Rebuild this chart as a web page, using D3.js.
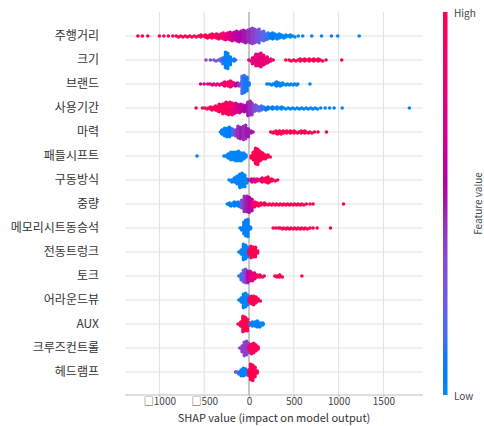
<!DOCTYPE html>
<html>
<head>
<meta charset="utf-8">
<script src="https://cdn.jsdelivr.net/npm/d3@7"></script>
<style>
  body { margin: 0; background: #fff; }
  text { font-family: "Noto Sans CJK KR", "Noto Sans", sans-serif; }
</style>
</head>
<body>
<svg id="chart" width="484" height="426"></svg>
<script>
// feature names, top to bottom
var features = ["주행거리", "크기", "브랜드", "사용기간", "마력", "패들시프트", "구동방식", "중량",
  "메모리시트동승석", "전동트렁크", "토크", "어라운드뷰", "AUX", "크루즈컨트롤", "헤드램프"];

var tickValues = [-1000, -500, 0, 500, 1000, 1500];
var tickLabels = ["\u25A11000", "\u25A1500", "0", "500", "1000", "1500"];

// each entry: [shap value, number of dots stacked there, feature value 0 (low) .. 1 (high)]
var mileage = [[-1240,1,1],[-1190,1,1],[-1130,1,1],[-1000,1,1],[-950,1,1],[-900,1,1],[-850,1,1],[-800,2,1],
  [-750,2,1],[-700,2,1],[-650,2,1],[-600,2,1],[-550,3,1],[-500,3,1],[-450,4,1],[-400,5,1],[-350,6,0.95],
  [-300,7,0.88],[-250,8,0.8],[-200,10,0.72],[-150,11,0.62],[-100,12,0.55],[-50,14,0.5],[0,15,0.45],
  [50,17,0.38],[100,15,0.3],[150,11,0.22],[200,8,0.15],[250,7,0.08],[300,6,0.03],[350,5,0.02],
  [400,4,0.02],[450,3,0.02],[500,2,0.02],[550,1,0.02],[600,1,0.02],[700,1,0.02],[810,1,0.02],
  [920,1,0.02],[990,1,0.02],[1230,1,0.02]];
var size = [[-480,1,0.35],[-430,1,0.35],[-380,2,0.3],[-330,3,0.25],[-280,8,0.12],[-250,18,0.05],
  [-220,10,0.05],[-180,3,0.1],[-150,1,0.1],[10,2,0.75],[50,8,0.78],[90,13,0.8],[120,15,0.8],
  [150,12,0.82],[190,8,0.85],[230,4,0.85],[270,1,0.9],[410,1,1],[460,2,1],[510,2,1],[560,3,1],
  [610,3,1],[660,3,1],[710,3,1],[760,3,1],[810,2,1],[860,1,1],[1035,1,1]];
var brand = [[-540,1,0.7],[-500,1,0.7],[-460,1,0.72],[-420,2,0.75],[-380,2,0.78],[-340,2,0.8],
  [-300,3,0.85],[-260,5,0.9],[-220,7,0.95],[-180,5,0.8],[-140,4,0.55],[-100,4,0.4],[-65,20,0.15],
  [-35,16,0.1],[-10,3,0.1],[200,1,0.04],[240,2,0.04],[280,3,0.03],[320,5,0.03],[360,4,0.03],
  [400,2,0.03],[440,2,0.03],[480,2,0.03],[520,2,0.03],[545,1,0.03],[680,1,0.03]];
var age = [[-590,1,1],[-520,1,1],[-480,2,1],[-440,3,1],[-400,4,1],[-360,6,1],[-320,9,0.98],
  [-280,12,0.96],[-240,14,0.94],[-200,14,0.9],[-160,12,0.8],[-120,10,0.7],[-80,9,0.6],[-40,8,0.55],
  [0,16,0.5],[20,14,0.45],[60,8,0.35],[100,6,0.25],[150,5,0.15],[200,4,0.08],[250,3,0.05],
  [300,3,0.03],[350,3,0.03],[400,2,0.03],[450,2,0.03],[500,2,0.03],[550,2,0.03],[600,2,0.03],
  [650,2,0.03],[700,2,0.03],[750,2,0.03],[800,1,0.03],[850,1,0.03],[900,1,0.03],[950,1,0.03],
  [1040,1,0.03],[1790,1,0.03]];
var power = [[-320,1,0.1],[-290,6,0.05],[-260,10,0.05],[-230,11,0.05],[-200,9,0.08],[-170,6,0.2],
  [-140,8,0.4],[-110,14,0.45],[-80,12,0.5],[-50,16,0.45],[-20,10,0.5],[10,3,0.5],[45,1,0.55],
  [255,2,1],[290,3,1],[330,4,1],[370,4,1],[410,3,1],[450,3,1],[490,3,1],[530,2,1],[570,3,1],
  [610,3,1],[650,2,1],[690,2,1],[730,1,1],[770,1,1],[865,1,1]];
var paddle = [[-580,1,0.03],[-280,1,0.02],[-250,3,0.02],[-220,6,0.02],[-190,9,0.02],[-160,10,0.02],
  [-130,11,0.02],[-100,10,0.02],[-70,8,0.02],[-45,4,0.02],[35,4,1],[60,10,1],[85,18,1],[110,12,1],
  [140,8,1],[170,6,1],[200,4,1],[225,2,1]];
var drive = [[-210,2,0.03],[-180,4,0.03],[-150,7,0.03],[-120,11,0.03],[-90,16,0.03],[-60,14,0.03],
  [-35,6,0.03],[15,3,0.65],[45,4,0.7],[80,4,0.75],[120,3,0.85],[160,5,0.95],[200,7,1],[240,4,1],
  [280,2,1],[320,1,1]];
var weight = [[-230,3,0.05],[-190,4,0.05],[-150,5,0.05],[-110,6,0.1],[-70,10,0.3],[-40,17,0.45],
  [-10,18,0.5],[20,14,0.6],[50,6,0.85],[80,5,0.95],[120,4,1],[160,3,1],[200,2,1],[240,2,1],
  [280,2,1],[320,2,1],[360,2,1],[400,2,1],[440,2,1],[480,2,1],[520,2,1],[560,2,1],[600,2,1],
  [640,1,1],[680,1,1],[715,1,1],[1055,1,1]];
var memorySeat = [[-100,1,0.05],[-70,4,0.05],[-45,14,0.05],[-25,19,0.05],[0,5,0.05],[20,1,0.05],
  [270,1,1],[300,1,1],[330,1,1],[360,2,1],[400,2,1],[440,2,1],[480,2,1],[520,2,1],[560,2,1],
  [600,2,1],[640,2,1],[680,1,1],[715,1,1],[760,1,1],[910,1,1]];
var trunk = [[-100,2,0.03],[-75,6,0.03],[-50,17,0.03],[-25,12,0.03],[-5,3,0.03],[10,6,1],[35,13,1],
  [60,11,1],[85,3,1]];
var torque = [[-100,2,0.1],[-75,8,0.15],[-50,15,0.25],[-25,14,0.4],[0,12,0.6],[25,10,0.75],[50,7,0.8],
  [80,4,0.9],[110,3,1],[140,2,1],[170,1,1],[300,2,1],[330,3,1],[360,2,1],[590,1,1]];
var aroundView = [[-100,2,0.03],[-75,7,0.03],[-50,16,0.03],[-25,12,0.03],[-5,3,0.03],[15,5,1],
  [40,10,1],[65,9,1],[90,5,1],[115,2,1]];
var aux = [[-110,2,1],[-80,7,1],[-55,17,1],[-30,14,1],[-5,4,1],[20,2,0.03],[50,5,0.03],[80,7,0.03],
  [110,6,0.03],[140,3,0.03],[160,1,0.03]];
var cruise = [[-90,2,0.4],[-65,8,0.4],[-40,16,0.38],[-20,12,0.4],[-5,3,0.45],[15,6,0.95],[40,12,0.95],
  [65,9,0.97],[90,4,1]];
var headlamp = [[-150,1,0.4],[-125,2,0.3],[-100,4,0.1],[-75,8,0.05],[-50,9,0.05],[-30,5,0.05],
  [10,8,1],[30,18,1],[55,12,1],[80,4,1]];

var rows = [mileage, size, brand, age, power, paddle, drive, weight, memorySeat, trunk, torque,
  aroundView, aux, cruise, headlamp];

var width = 484, height = 426;
var svg = d3.select("#chart");

var x = d3.scaleLinear().domain([-1384, 1942]).range([125, 423]);
var y = d3.scalePoint().domain(features).range([36, 372]);
var plotTop = 12, plotBottom = 395;

// shap red_blue colormap (lch path, blue -> purple -> red)
function shapColor(t){
	var l = t < 0.5 ? 54 + (40 - 54) * (t / 0.5) : 40 + (54 - 40) * ((t - 0.5) / 0.5);
	var c = 70 + 20 * t;
	var h = 266.93 + (380.32 - 266.93) * t;
	return d3.hcl(h, c, l).formatHex();
}

// vertical grid
svg.append("g")
	.selectAll("line")
	.data(tickValues)
	.enter().append("line")
	.attr("x1", function(d){ return x(d); })
	.attr("x2", function(d){ return x(d); })
	.attr("y1", plotTop)
	.attr("y2", plotBottom)
	.attr("stroke", function(d){ return d === 0 ? "#a8a8a8" : "#e0e0e0"; })
	.attr("stroke-width", function(d){ return d === 0 ? 1.3 : 1; });

// row lines
svg.append("g")
	.selectAll("line")
	.data(features)
	.enter().append("line")
	.attr("x1", 125)
	.attr("x2", 423)
	.attr("y1", function(d){ return y(d); })
	.attr("y2", function(d){ return y(d); })
	.attr("stroke", "#e2e2e2")
	.attr("stroke-width", 1);

// dots: stack each entry's dots around the row line
var dots = [];
rows.forEach(function(row, i){
	row.forEach(function(e){
		for (var k = 0; k < e[1]; k++){
			var level = Math.ceil(k / 2);
			var sign = k === 0 ? 0 : (k % 2 === 1 ? 1 : -1);
			var dx = e[1] === 1 ? 0 : (level % 2 ? 1.1 : -1.1);
			dots.push({ v: e[0], f: features[i], dx: dx, dy: sign * level * 0.95, c: e[2] });
		}
	});
});

svg.append("g")
	.selectAll("circle")
	.data(dots)
	.enter().append("circle")
	.attr("cx", function(d){ return x(d.v) + d.dx; })
	.attr("cy", function(d){ return y(d.f) + d.dy; })
	.attr("r", 1.8)
	.attr("fill", function(d){ return shapColor(d.c); });

// feature labels
svg.append("g")
	.selectAll("text")
	.data(features)
	.enter().append("text")
	.attr("x", 99)
	.attr("y", function(d){ return y(d); })
	.attr("dy", "0.36em")
	.attr("text-anchor", "end")
	.attr("font-size", 12)
	.attr("fill", "#333")
	.text(function(d){ return d; });

// x axis
var xAxis = d3.axisBottom(x)
	.tickValues(tickValues)
	.tickFormat(function(d, i){ return tickLabels[i]; })
	.tickSize(2)
	.tickPadding(1);
var ax = svg.append("g")
	.attr("transform", "translate(0," + plotBottom + ")")
	.call(xAxis);
ax.select(".domain").attr("stroke", "#bdbdbd").attr("d", "M125,0H423");
ax.selectAll(".tick line").attr("stroke", "#bdbdbd");
ax.selectAll(".tick text")
	.attr("font-size", 10)
	.attr("fill", "#444")
	.attr("font-family", "\"Noto Sans CJK KR\", \"Noto Sans\", sans-serif");

svg.append("text")
	.attr("x", 274)
	.attr("y", 422)
	.attr("text-anchor", "middle")
	.attr("font-size", 11)
	.attr("fill", "#333")
	.text("SHAP value (impact on model output)");

// colour bar
var grad = svg.append("defs").append("linearGradient")
	.attr("id", "cbar")
	.attr("x1", 0).attr("y1", 1).attr("x2", 0).attr("y2", 0);
d3.range(0, 1.0001, 0.05).forEach(function(t){
	grad.append("stop").attr("offset", t).attr("stop-color", shapColor(t));
});
svg.append("rect")
	.attr("x", 443)
	.attr("y", plotTop)
	.attr("width", 4.5)
	.attr("height", plotBottom - plotTop)
	.attr("fill", "url(#cbar)");

svg.append("text").attr("x", 454).attr("y", 17).attr("font-size", 10).attr("fill", "#444").text("High");
svg.append("text").attr("x", 454).attr("y", 400).attr("font-size", 10).attr("fill", "#444").text("Low");
svg.append("text")
	.attr("transform", "translate(482," + ((plotTop + plotBottom) / 2) + ") rotate(-90)")
	.attr("text-anchor", "middle")
	.attr("font-size", 10)
	.attr("fill", "#444")
	.text("Feature value");
</script>
</body>
</html>
